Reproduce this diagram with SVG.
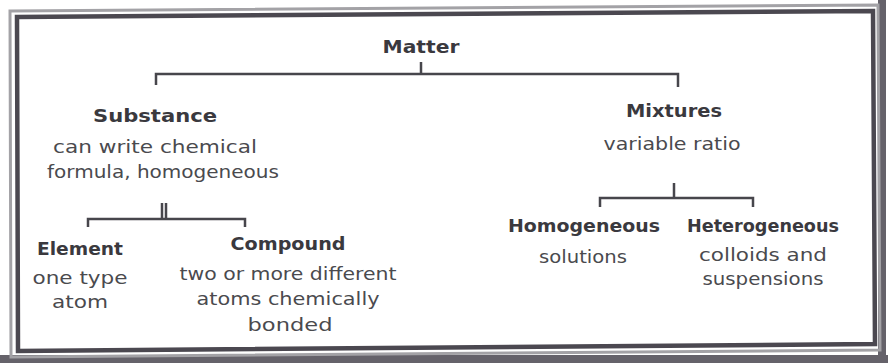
<svg xmlns="http://www.w3.org/2000/svg" width="888" height="363" viewBox="0 0 888 363">
<style>
text{font-family:"DejaVu Sans","Liberation Sans",sans-serif;text-anchor:middle;font-size:18px;fill:#4a4a4e;lengthAdjust:spacingAndGlyphs}
.h{font-weight:bold;fill:#3a393e}
.c{fill:none;stroke:#47464c;stroke-width:2.5}
</style>
<rect width="888" height="363" fill="#ffffff"/>
<g id="frame" fill="none">
<path d="M882,0 V363 M0,359 H888" stroke="#4a4650" stroke-width="8" opacity="0.85"/>
<polygon points="10,11 878,5 880,350 11,357" stroke="#a3a2a6" stroke-width="3"/>
<polygon points="17,17 873,11 875,344 18,351" stroke="#4b4850" stroke-width="4.5"/>
</g>
<g id="connectors">
<path class="c" d="M421,62 V74 M156,85 V74 H678 V87"/>
<path class="c" d="M162,203 V218 M166,203 V218 M88,227 V219 H245 V227"/>
<path class="c" d="M674,183 V198 M600,207 V198 H753 V207"/>
</g>
<g id="matter"><text class="h" x="421" y="53" font-size="19" textLength="77" lengthAdjust="spacingAndGlyphs">Matter</text></g>
<g id="substance">
<text class="h" x="155" y="122" textLength="124" lengthAdjust="spacingAndGlyphs">Substance</text>
<text x="155" y="153" textLength="204" lengthAdjust="spacingAndGlyphs">can write chemical</text>
<text x="163" y="178" textLength="232" lengthAdjust="spacingAndGlyphs">formula, homogeneous</text>
</g>
<g id="mixtures">
<text class="h" x="674" y="117" textLength="96" lengthAdjust="spacingAndGlyphs">Mixtures</text>
<text x="672" y="150" textLength="137" lengthAdjust="spacingAndGlyphs">variable ratio</text>
</g>
<g id="element">
<text class="h" x="80" y="255" textLength="86" lengthAdjust="spacingAndGlyphs">Element</text>
<text x="80" y="284" textLength="95" lengthAdjust="spacingAndGlyphs">one type</text>
<text x="80" y="308" textLength="56" lengthAdjust="spacingAndGlyphs">atom</text>
</g>
<g id="compound">
<text class="h" x="288" y="250" textLength="115" lengthAdjust="spacingAndGlyphs">Compound</text>
<text x="288" y="280" textLength="217" lengthAdjust="spacingAndGlyphs">two or more different</text>
<text x="288" y="305" textLength="183" lengthAdjust="spacingAndGlyphs">atoms chemically</text>
<text x="290" y="331" textLength="85" lengthAdjust="spacingAndGlyphs">bonded</text>
</g>
<g id="homogeneous">
<text class="h" x="584" y="232" textLength="152" lengthAdjust="spacingAndGlyphs">Homogeneous</text>
<text x="583" y="263" textLength="88" lengthAdjust="spacingAndGlyphs">solutions</text>
</g>
<g id="heterogeneous">
<text class="h" x="763" y="232" textLength="152" lengthAdjust="spacingAndGlyphs">Heterogeneous</text>
<text x="763" y="261" textLength="128" lengthAdjust="spacingAndGlyphs">colloids and</text>
<text x="763" y="285" textLength="121" lengthAdjust="spacingAndGlyphs">suspensions</text>
</g>
</svg>
